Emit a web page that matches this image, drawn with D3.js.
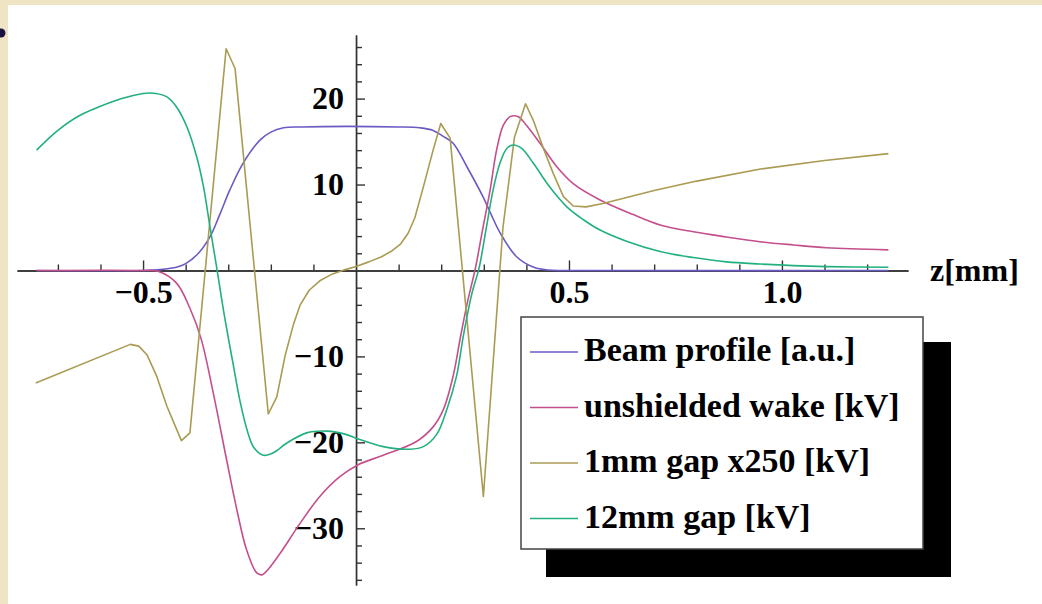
<!DOCTYPE html>
<html>
<head>
<meta charset="utf-8">
<script src="https://cdn.jsdelivr.net/npm/d3@7"></script>
<style>
  body { margin: 0; background: #efe4c4; }
  svg { display: block; }
  text { font-family: "Liberation Serif", "Times New Roman", serif; font-weight: bold; fill: #000; }
</style>
</head>
<body>
<svg width="1042" height="604"></svg>
<script>
// values: [z in mm, value]
const beamProfile = [
  [-0.75, 0], [-0.5, 0], [-0.46, 0.1], [-0.42, 0.4], [-0.40, 0.8], [-0.37, 2.0],
  [-0.343, 3.9], [-0.32, 6.5], [-0.296, 9.4], [-0.265, 12.5], [-0.225, 15.2],
  [-0.2, 16.1], [-0.17, 16.6], [-0.13, 16.7], [0.10, 16.7], [0.15, 16.6],
  [0.181, 16.3], [0.205, 15.6], [0.228, 14.8], [0.26, 12.1], [0.298, 8.6],
  [0.338, 4.4], [0.377, 1.6], [0.416, 0.4], [0.45, 0.05], [0.5, 0], [1.25, 0]
];

const unshieldedWake = [
  [-0.75, 0], [-0.5, 0], [-0.465, -0.1], [-0.421, -1.5], [-0.39, -4.4], [-0.364, -7.9],
  [-0.335, -14.3], [-0.304, -22.0], [-0.28, -27.8], [-0.257, -32.5], [-0.233, -35.2],
  [-0.22, -35.4], [-0.205, -34.7], [-0.178, -32.9], [-0.131, -29.4], [-0.085, -26.3],
  [-0.038, -24.0], [0.005, -22.6], [0.064, -21.5], [0.142, -19.9], [0.181, -18.2],
  [0.205, -16.2], [0.228, -12.3], [0.245, -7.8], [0.262, -3.6], [0.28, 0.2],
  [0.297, 4.7], [0.315, 9.4], [0.33, 14.0], [0.346, 16.9], [0.362, 17.9], [0.381, 17.9],
  [0.4, 16.9], [0.432, 14.8], [0.471, 12.1], [0.51, 10.1], [0.573, 8.2], [0.651, 6.5],
  [0.714, 5.3], [0.792, 4.5], [0.87, 3.9], [0.948, 3.35], [1.027, 2.97], [1.105, 2.65],
  [1.25, 2.4]
];

// coarse polyline in the original, kept linear
const gap1mm = [
  [-0.752, -13.1], [-0.53, -8.6], [-0.51, -8.8], [-0.491, -9.8], [-0.468, -12.3],
  [-0.444, -15.8], [-0.41, -19.8], [-0.39, -18.9], [-0.305, 25.8], [-0.284, 23.5],
  [-0.206, -16.7], [-0.186, -14.7], [-0.166, -9.8], [-0.147, -6.3], [-0.131, -4.0],
  [-0.11, -2.3], [-0.085, -1.2], [-0.055, -0.4], [-0.025, 0.1], [0.0, 0.45], [0.03, 1.0],
  [0.06, 1.6], [0.085, 2.3], [0.105, 3.1], [0.122, 4.3], [0.138, 6.1], [0.158, 9.7],
  [0.181, 14.0], [0.199, 17.1], [0.221, 15.4], [0.299, -26.3], [0.345, 5.0], [0.372, 15.5],
  [0.398, 19.4], [0.416, 17.5], [0.44, 14.2], [0.463, 11.3], [0.487, 8.6], [0.51, 7.5],
  [0.54, 7.4], [0.58, 7.8], [0.7, 9.3], [0.8, 10.4], [0.95, 11.8], [1.1, 12.8], [1.25, 13.6]
];

const gap12mm = [
  [-0.75, 14.0], [-0.70, 16.3], [-0.65, 18.0], [-0.60, 19.1], [-0.55, 20.0], [-0.50, 20.6],
  [-0.47, 20.6], [-0.444, 20.2], [-0.421, 19.0], [-0.397, 16.7], [-0.374, 13.2],
  [-0.358, 9.7], [-0.343, 5.1], [-0.327, 0.3], [-0.31, -5.0], [-0.29, -10.5],
  [-0.272, -15.3], [-0.255, -18.7], [-0.24, -20.6], [-0.218, -21.5], [-0.194, -21.2],
  [-0.163, -20.1], [-0.116, -18.9], [-0.069, -18.7], [-0.022, -19.1], [0.005, -19.6],
  [0.064, -20.5], [0.127, -20.8], [0.158, -20.5], [0.189, -19.1], [0.213, -16.2],
  [0.236, -12.3], [0.252, -7.6], [0.272, -2.7], [0.289, 0.3], [0.305, 4.7], [0.322, 9.4],
  [0.338, 12.5], [0.354, 14.2], [0.369, 14.6], [0.389, 14.2], [0.416, 12.5], [0.455, 9.7],
  [0.495, 7.4], [0.534, 5.9], [0.573, 4.7], [0.635, 3.4], [0.714, 2.2], [0.792, 1.5],
  [0.87, 1.0], [0.948, 0.75], [1.027, 0.56], [1.105, 0.45], [1.25, 0.37]
];

const seriesNames = ["Beam profile [a.u.]", "unshielded wake [kV]", "1mm gap x250 [kV]", "12mm gap [kV]"];
const seriesColors = ["#6b5ac4", "#c44f8c", "#aa9b52", "#22b07e"];

const xMajorTicks = [-0.5, 0.5, 1.0];
const xMinorTicks = [-0.7, -0.6, -0.4, -0.3, -0.2, -0.1, 0.1, 0.2, 0.3, 0.4, 0.6, 0.7, 0.8, 0.9, 1.1, 1.2];
const yMajorTicks = [-30, -20, -10, 10, 20];
const yMinorTicks = [-36, -34, -32, -28, -26, -24, -22, -18, -16, -14, -12, -8, -6, -4, -2,
  2, 4, 6, 8, 12, 14, 16, 18, 22, 24, 26];

const svg = d3.select("svg");
const width = +svg.attr("width");
const height = +svg.attr("height");

// slide background: white panel on parchment, bullet at left
svg.append("rect").attr("width", width).attr("height", height).attr("fill", "#efe4c4");
svg.append("rect").attr("x", 8).attr("y", 5).attr("width", width - 8).attr("height", height - 5).attr("fill", "#fff");
svg.append("circle").attr("cx", 1).attr("cy", 33).attr("r", 4.5).attr("fill", "#1c1242");

const x = d3.scaleLinear().domain([-0.796, 1.296]).range([17, 908]);
const y = d3.scaleLinear().domain([-36.6, 27.4]).range([585, 35]);

const x0 = x(0);
const y0 = y(0);

// axes
const xAxis = svg.append("g").attr("transform", `translate(0,${y0})`);
xAxis.call(d3.axisBottom(x).tickValues(xMinorTicks).tickSize(-6).tickSizeOuter(0).tickFormat(""));
xAxis.append("g").call(d3.axisBottom(x).tickValues(xMajorTicks).tickSize(-10).tickSizeOuter(0)
  .tickPadding(10).tickFormat(d3.format(".1f")));

const yAxis = svg.append("g").attr("transform", `translate(${x0},0)`);
yAxis.call(d3.axisLeft(y).tickValues(yMinorTicks).tickSize(-6).tickSizeOuter(0).tickFormat(""));
yAxis.append("g").call(d3.axisLeft(y).tickValues(yMajorTicks).tickSize(-9).tickSizeOuter(0)
  .tickPadding(12).tickFormat(d3.format("d")));

svg.selectAll(".domain").attr("stroke", "#333").attr("stroke-width", 1.4);
svg.selectAll(".tick line").attr("stroke", "#333").attr("stroke-width", 1.4);
svg.selectAll(".tick text")
  .attr("font-family", '"Liberation Serif", "Times New Roman", serif')
  .attr("font-weight", "bold")
  .attr("font-size", 32)
  .attr("fill", "#000");

svg.append("text")
  .attr("x", 930)
  .attr("y", y0 + 11)
  .attr("font-size", 32)
  .text("z[mm]");

// curves
const smooth = d3.line().x(d => x(d[0])).y(d => y(d[1])).curve(d3.curveCatmullRom.alpha(0.5));
const straight = d3.line().x(d => x(d[0])).y(d => y(d[1]));

const allSeries = [beamProfile, unshieldedWake, gap1mm, gap12mm];
const plot = svg.append("g");
allSeries.forEach((data, i) => {
  plot.append("path")
    .datum(data)
    .attr("fill", "none")
    .attr("stroke", seriesColors[i])
    .attr("stroke-width", 1.6)
    .attr("stroke-linejoin", "round")
    .attr("d", i === 2 ? straight : smooth);
});

// legend with drop shadow
const legend = svg.append("g").attr("transform", "translate(521,317)");
legend.append("rect").attr("x", 25).attr("y", 25).attr("width", 405).attr("height", 235).attr("fill", "#000");
legend.append("rect").attr("width", 402).attr("height", 232)
  .attr("fill", "#fff").attr("stroke", "#444").attr("stroke-width", 1.5);

const rows = legend.selectAll(".row")
  .data(seriesNames)
  .enter().append("g")
  .attr("transform", (d, i) => `translate(0,${35 + i * 55.5})`);

rows.append("line")
  .attr("x1", 9).attr("x2", 57)
  .attr("stroke", (d, i) => seriesColors[i])
  .attr("stroke-width", 1.6);

rows.append("text")
  .attr("x", 63)
  .attr("y", 9)
  .attr("font-size", 34)
  .text(d => d);
</script>
</body>
</html>
